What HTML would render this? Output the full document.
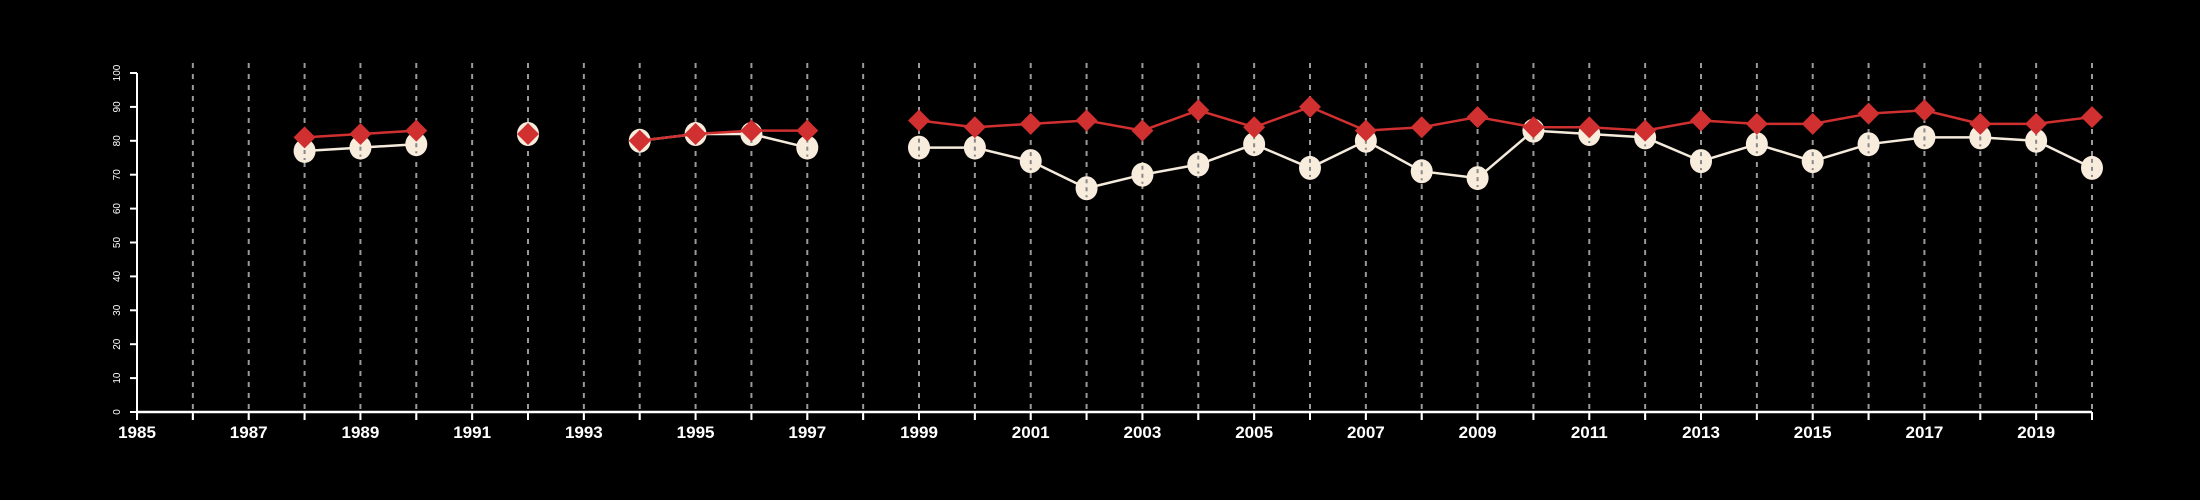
<!DOCTYPE html>
<html><head><meta charset="utf-8"><style>
body{margin:0;background:#000;}
svg{display:block;font-family:"Liberation Sans",sans-serif;}
</style></head><body>
<svg id="chart" width="2200" height="500" viewBox="0 0 2200 500">
<rect width="2200" height="500" fill="#000"/>
<g id="grid"></g>
<g id="axes"></g>
<g id="series"></g>
</svg>
<script>
const years = [1988,1989,1990,1992,1994,1995,1996,1997,1999,2000,2001,2002,2003,2004,2005,2006,2007,2008,2009,2010,2011,2012,2013,2014,2015,2016,2017,2018,2019,2020];
const whiteSeries = [77,78,79,82,80,82,82,78,78,78,74,66,70,73,79,72,80,71,69,83,82,81,74,79,74,79,81,81,80,72];
const redSeries = [81,82,83,82,80,82,83,83,86,84,85,86,83,89,84,90,83,84,87,84,84,83,86,85,85,88,89,85,85,87];
const yTicks = [0,10,20,30,40,50,60,70,80,90,100];
const xLabels = [1985,1987,1989,1991,1993,1995,1997,1999,2001,2003,2005,2007,2009,2011,2013,2015,2017,2019];

const NS="http://www.w3.org/2000/svg";
const X0=137,X1=2092,Y0=412,Y1=73,YR0=1985,YR1=2020;
const xs=y=>X0+(y-YR0)*(X1-X0)/(YR1-YR0);
const ys=v=>Y0-v*(Y0-Y1)/100;
function mk(tag,attrs,parent){const e=document.createElementNS(NS,tag);for(const k in attrs)e.setAttribute(k,attrs[k]);parent.appendChild(e);return e;}
const grid=document.getElementById('grid'),axes=document.getElementById('axes'),ser=document.getElementById('series');

for(let yr=YR0+1;yr<=YR1;yr++){
  const l=mk('line',{x1:xs(yr),x2:xs(yr),y1:63,y2:426,stroke:'#9a9a9a','stroke-width':2,'stroke-dasharray':'5,6'},grid);
  
  
}
let a=mk('line',{x1:X0,x2:X0,y1:Y1,y2:Y0,stroke:'#fff','stroke-width':2},axes);


a=mk('line',{x1:X0,x2:X1,y1:Y0,y2:Y0,stroke:'#fff','stroke-width':2.5},axes);


yTicks.forEach(v=>{
  mk('line',{x1:X0-7,x2:X0,y1:ys(v),y2:ys(v),stroke:'#fff','stroke-width':2},axes);
  const t=mk('text',{x:0,y:0,fill:'#fff','font-size':10,'text-anchor':'middle',transform:`translate(120,${ys(v)}) rotate(-90)`},axes);
  t.textContent=v;
  
  
});
for(let yr=YR0;yr<=YR1;yr++){mk('line',{x1:xs(yr),x2:xs(yr),y1:Y0,y2:Y0+8,stroke:'#fff','stroke-width':2},axes);}
xLabels.forEach(yr=>{
  const t=mk('text',{x:xs(yr),y:438,fill:'#fff','font-size':17,'font-weight':'bold','text-anchor':'middle'},axes);
  t.textContent=yr;
  
  
});
function drawLines(vals,color,w,name){
  for(let i=1;i<years.length;i++){
    if(years[i]-years[i-1]!==1)continue;
    const l=mk('line',{x1:xs(years[i-1]),y1:ys(vals[i-1]),x2:xs(years[i]),y2:ys(vals[i]),stroke:color,'stroke-width':w},ser);
    
    
  }
}
drawLines(whiteSeries,'#f5ebdc',2.5,'white-series');
whiteSeries.forEach((v,i)=>{
  const c=mk('ellipse',{cx:xs(years[i]),cy:ys(v),rx:11,ry:12,fill:'#f8ecdc'},ser);
  
  
  mk('line',{x1:xs(years[i]),x2:xs(years[i]),y1:ys(v)-9,y2:ys(v)+9,stroke:'#888','stroke-width':2,'stroke-dasharray':'4,4'},ser);
});
drawLines(redSeries,'#d03030',2.5,'red-series');
redSeries.forEach((v,i)=>{
  const x=xs(years[i]),y=ys(v),r=11;
  const p=mk('polygon',{points:`${x},${y-r} ${x+r},${y} ${x},${y+r} ${x-r},${y}`,fill:'#d03030'},ser);
  
  
});
</script>
</body></html>
